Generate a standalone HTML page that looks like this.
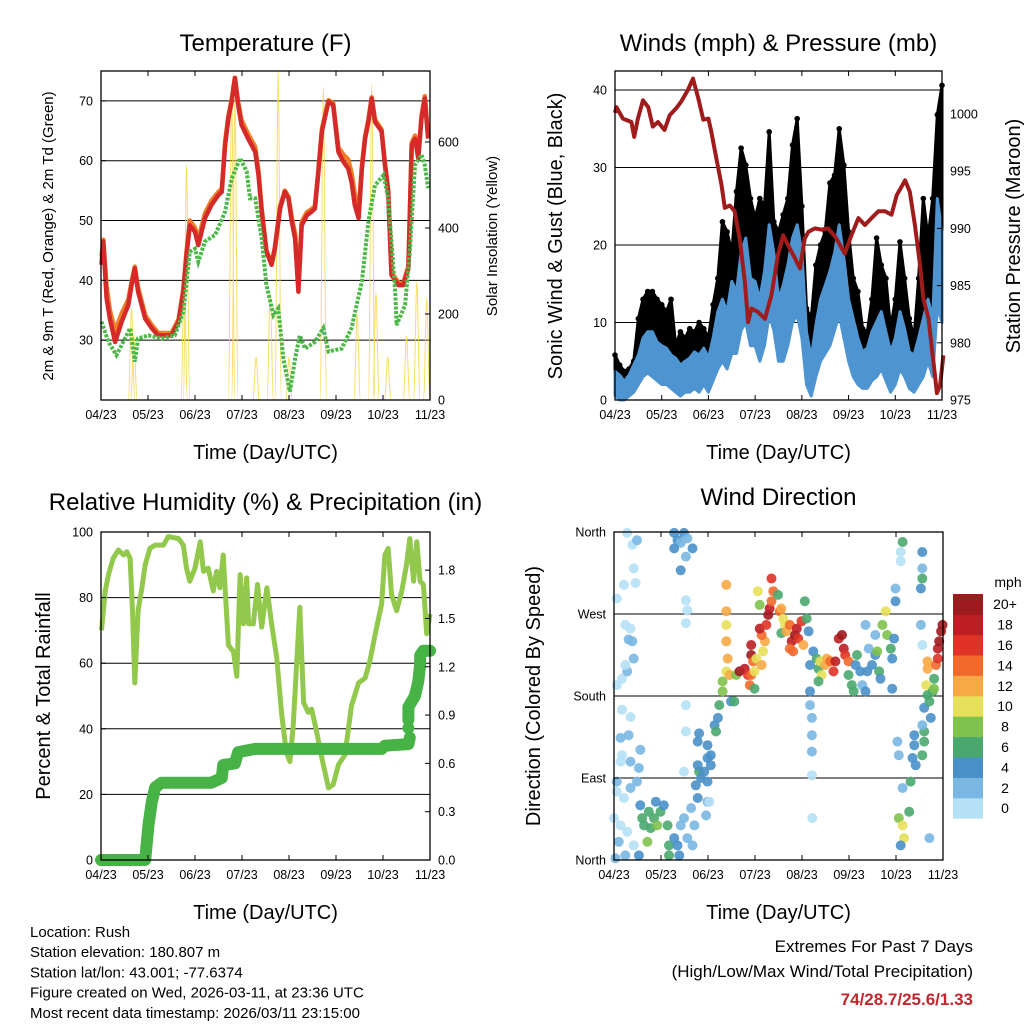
<!DOCTYPE html>
<html><head><meta charset="utf-8"><style>
html,body{margin:0;padding:0;background:#fff;}
svg{display:block;font-family:"Liberation Sans",sans-serif;}
</style></head><body>
<svg id="chart" width="1024" height="1024" viewBox="0 0 1024 1024" xmlns="http://www.w3.org/2000/svg"></svg>
<script>
// ---------- shared ----------
const monthTicks = ['04/23','05/23','06/23','07/23','08/23','09/23','10/23','11/23'];

// ---------- Temperature panel ----------
const tempT = [0.01,0.05,0.12,0.19,0.30,0.44,0.58,0.65,0.72,0.79,0.94,1.08,1.22,1.50,1.65,1.75,1.82,1.89,2.0,2.07,2.21,2.35,2.50,2.57,2.64,2.71,2.78,2.85,2.92,2.99,3.13,3.28,3.35,3.42,3.52,3.63,3.70,3.81,3.91,3.99,4.06,4.13,4.20,4.27,4.38,4.48,4.55,4.62,4.70,4.84,4.94,5.05,5.16,5.26,5.33,5.40,5.48,5.55,5.62,5.69,5.76,5.83,5.97,6.04,6.11,6.18,6.33,6.43,6.54,6.61,6.68,6.75,6.82,6.89,6.96];
const temp2m = [42.6,46.5,37.0,33.6,29.7,33.1,35.9,39.2,42.0,38.1,33.6,32.0,30.8,30.8,33.1,38.1,44.2,49.2,48.1,45.9,50.4,52.6,54.3,54.8,62.6,67.1,69.9,73.8,69.3,66.0,63.7,61.5,57.6,51.5,44.8,42.6,45.3,52.0,54.8,53.7,49.8,47.0,38.1,49.2,50.9,51.5,52.0,57.6,64.9,69.9,69.3,61.5,59.8,58.7,56.5,52.6,50.4,58.7,63.7,66.5,70.4,66.5,64.9,59.3,54.8,40.9,39.2,39.2,42.0,62.6,63.7,60.4,67.1,70.4,63.7];
const temp9m = [44.0,46.8,39.0,35.0,31.5,34.5,36.8,39.8,42.3,38.8,34.2,32.5,31.2,31.2,33.5,38.5,44.8,50.0,48.8,46.8,51.2,53.3,54.8,55.3,63.2,67.5,70.3,73.9,69.8,66.8,64.5,62.3,58.3,52.0,45.0,42.8,45.6,52.4,55.0,54.0,50.5,47.8,40.0,49.8,51.4,51.9,52.4,58.0,65.3,70.1,69.6,62.2,61.0,60.2,58.0,54.5,51.3,59.2,64.1,66.9,70.6,66.9,65.2,59.7,55.2,41.3,39.6,39.5,42.4,63.0,64.2,61.0,67.5,70.8,64.2];
const tdT = [0.01,0.16,0.33,0.51,0.62,0.72,0.79,1.01,1.29,1.57,1.75,1.89,2.0,2.07,2.21,2.43,2.64,2.78,2.96,3.1,3.17,3.28,3.42,3.52,3.67,3.77,3.88,4.02,4.13,4.23,4.34,4.55,4.73,4.84,5.12,5.33,5.55,5.69,5.83,6.01,6.11,6.26,6.29,6.47,6.57,6.68,6.82,6.89,6.96];
const tdVals = [33.1,29.7,27.5,30.3,32.0,26.4,30.3,30.8,30.3,30.8,34.7,44.8,45.3,43.1,46.5,47.6,51.5,57.0,60.4,58.2,53.7,53.7,47.0,39.2,34.2,35.3,26.9,21.4,26.9,30.8,28.6,29.7,32.0,28.1,28.6,32.0,39.8,49.8,55.9,57.6,53.7,38.1,32.5,35.9,44.8,59.3,61.0,59.3,55.4];
const solarT = [0.65,0.70,1.77,1.82,2.78,2.85,3.30,3.60,3.77,4.00,4.73,5.45,5.76,5.85,6.10,6.50,6.72,6.93];
const solarPeak = [213,150,300,546,733,700,100,250,763,100,725,200,733,250,100,150,275,236];

// ---------- Winds panel ----------
const windT = [0,0.1,0.2,0.3,0.4,0.5,0.6,0.7,0.8,0.9,1.0,1.1,1.2,1.3,1.4,1.5,1.6,1.7,1.8,1.9,2.0,2.1,2.2,2.3,2.4,2.5,2.6,2.7,2.8,2.9,3.0,3.1,3.2,3.3,3.4,3.5,3.6,3.7,3.8,3.9,4.0,4.1,4.2,4.3,4.4,4.5,4.6,4.7,4.8,4.9,5.0,5.1,5.2,5.3,5.4,5.5,5.6,5.7,5.8,5.9,6.0,6.1,6.2,6.3,6.4,6.5,6.6,6.7,6.8,6.9,7.0];
const windHi = [3.7,3.2,2.4,3.2,4.5,5.8,8,8.8,8.8,7.5,7,6.7,5.8,5.4,4.5,5,5.4,6.2,5.8,6.7,5.4,8,11.4,13,11.4,15.3,14,19,20.9,15.7,15.3,13,16.6,22.6,19,13,14.8,17.4,20.9,22.6,19,8.8,5.4,9.7,13,14.8,16.6,19,22.6,18.3,13,10.5,8,6.2,6.7,8.8,10.1,11.4,8.8,6.2,8,11.4,9.2,6.2,5.8,8,10.5,13,10.5,26,21.7];
const windLo = [0.6,0,0,0.5,1,2,3,3.5,3,2.5,2,2,1.5,1,0.5,1,1,1.5,1,2,1,2.5,4,5,4,6,6,9,10,7,7,5,7,11,9,5,5,7,10,11,8,2,0.5,3,5,6,7,9,11,8,5,3,2,1.5,1.5,2.5,3,4,2.5,1,2,4,3,1.5,1,2,3,5,3,12,10];
const gustHi = [5.8,4.5,3.7,4,5,10.5,13,14,14,13,12.3,11.4,13,7,8.8,8,9.2,8.8,10,9.2,8,12.3,15.7,23,21.7,19,26.9,32.5,30.3,26,23.4,26,25,34.6,23,21.7,23.9,26,32.9,36.3,25,11.8,10.5,17.4,20,21.7,28,29,35,30.3,21.7,15.7,14,9.2,8.8,13,20.9,17.4,15.7,9.2,13,20.4,15.7,10.5,8,15.7,26,20.9,26,36.8,40.6];
const presT = [0,0.03,0.17,0.35,0.41,0.49,0.6,0.71,0.81,0.92,1.06,1.17,1.31,1.42,1.56,1.67,1.78,1.89,2.0,2.06,2.17,2.28,2.35,2.46,2.56,2.67,2.78,2.85,2.92,3.06,3.21,3.35,3.49,3.6,3.71,3.85,3.96,4.06,4.14,4.28,4.42,4.56,4.71,4.85,4.92,5.06,5.21,5.35,5.49,5.64,5.78,5.92,6.03,6.21,6.31,6.42,6.53,6.6,6.71,6.81,6.89,6.96,7.03];
const presVals = [1000.1,1000.6,999.6,999.3,998.0,999.6,1001.2,1000.6,998.9,999.3,998.6,999.9,1000.5,1001.1,1002.1,1003.1,1001.4,999.5,999.6,998.5,996.1,993.8,991.8,992.0,991.5,989.1,985.3,981.8,983.0,982.7,982.1,984.2,987.7,989.4,988.5,987.4,986.5,989.1,989.7,990.0,989.9,990.0,989.3,988.3,987.8,989.4,990.9,990.3,990.9,991.5,991.5,991.2,992.9,994.2,993.2,990.3,986.8,983.9,982.1,978.6,975.6,976.3,978.9];

// ---------- RH / precip panel ----------
const rhT = [0.01,0.09,0.16,0.26,0.37,0.48,0.55,0.62,0.67,0.72,0.79,0.87,0.94,1.04,1.15,1.33,1.43,1.65,1.75,1.82,1.89,2.0,2.11,2.18,2.28,2.39,2.46,2.53,2.60,2.71,2.82,2.89,2.96,3.03,3.1,3.14,3.24,3.33,3.42,3.53,3.63,3.74,3.84,3.94,4.02,4.09,4.23,4.31,4.41,4.48,4.59,4.70,4.84,4.94,5.05,5.19,5.33,5.48,5.62,5.72,5.83,5.97,6.04,6.11,6.18,6.29,6.40,6.50,6.57,6.65,6.72,6.79,6.86,6.93,7.0];
const rhVals = [70,82,87,92,94.5,93,94,92,76,54,76,83,90,95,96,96,98.6,98,96,89,85,89,97,88,89,82,88,83,93,65.5,63.5,56,87,72,86,72,72,84,71,83,72,61.5,45,33,30,41,77,48,45,46,39,31,22,23,29,32,47,54,55.5,60.5,68.6,78,93,95,81,76,82,90,98,85,97,85,84,69,75];
const rainT = [0,0.94,1.01,1.08,1.15,1.29,2.35,2.57,2.60,2.85,2.92,3.28,5.97,6.04,6.54,6.57];
const rainVals = [0,0,0.22,0.36,0.45,0.48,0.48,0.51,0.59,0.60,0.67,0.69,0.69,0.71,0.72,0.76];
const rainT2 = [6.54,6.54,6.68,6.75,6.79,6.79,6.86,7.0];
const rainVals2 = [0.87,0.95,1.02,1.11,1.21,1.27,1.30,1.30];

// ---------- Wind direction panel ----------
const dirT = [0.06,0.28,0.39,0.49,0.42,0.21,0.46,0.06,0.17,0.24,0.35,0.31,0.39,0.28,0.24,0.42,0.17,0.35,0.14,0.31,0.17,0.14,0.56,0.35,0.53,0.06,0.06,0.21,0.35,0.49,0,0.14,0.28,0.10,0.42,0.24,0.03,0.53,0.56,0.60,0.64,0.74,0.78,0.85,0.92,0.99,0.71,0.89,1.06,1.14,1.17,1.17,1.28,1.35,1.42,1.39,1.49,1.56,1.64,1.71,1.78,1.67,1.74,1.81,1.85,1.92,1.99,1.99,1.96,1.99,2.06,1.78,1.78,1.99,2.06,2.14,2.17,2.21,2.24,2.31,2.31,2.39,2.46,2.42,2.39,2.39,2.39,2.39,2.49,2.56,2.60,2.67,2.78,2.85,2.92,2.89,2.99,2.99,2.92,2.92,2.96,3.03,3.14,3.17,3.21,3.14,3.10,3.24,3.28,3.31,3.35,3.39,3.35,3.10,3.06,3.49,3.53,3.56,3.60,3.64,3.56,3.67,3.74,3.78,3.85,3.89,3.92,3.74,3.81,3.99,4.03,4.06,4.10,4.14,4.17,4.17,4.17,4.21,4.21,4.21,4.21,4.22,4.24,4.31,4.35,4.39,4.42,4.35,4.49,4.53,4.60,4.67,4.71,4.78,4.85,4.89,4.92,4.99,4.99,5.06,5.10,5.14,5.17,5.24,5.28,5.35,5.39,5.42,5.49,5.56,5.60,5.64,5.67,5.56,5.35,5.71,5.78,5.81,5.89,5.92,5.96,5.99,5.99,5.92,6.14,6.10,6.10,6.03,6.06,6.06,6.14,6.17,6.10,6.14,6.28,6.31,6.35,6.39,6.42,6.39,6.56,6.60,6.60,6.56,6.60,6.67,6.71,6.64,6.67,6.67,6.78,6.81,6.81,6.85,6.89,6.92,6.96,6.99,6.89,6.56,6.56,6.56,6.53,6.53,6.56,6.74,6.71,1.28,1.35,1.49,1.42,1.56,1.67,1.53,1.42,1.28,1.53,1.56,1.53,1.53,1.53,1.49,1.81,2.03];
const dirDeg = [287,359,346,351,320,302,304,192,199,258,254,242,240,207,214,221,165,157,134,137,115,108,121,108,101,86,75,68,79,86,46,38,31,20,16,5,2,5,60,46,38,53,35,46,38,53,20,64,60,38,16,5,24,16,38,5,46,24,57,38,68,16,82,97,90,97,86,64,49,112,115,104,130,126,104,148,141,156,170,185,196,207,203,221,240,258,273,302,174,174,203,207,210,203,203,192,188,207,236,225,218,221,214,229,240,247,254,258,269,276,284,295,309,280,295,291,273,276,265,258,249,251,258,240,247,254,243,232,229,262,236,284,265,251,214,185,170,156,137,119,93,46,229,221,210,218,203,196,214,221,218,207,218,243,247,232,225,218,203,192,185,214,225,207,192,185,207,232,214,225,229,207,199,247,258,258,273,247,232,221,243,284,298,188,349,338,328,130,115,46,38,24,16,79,53,86,112,126,104,137,115,130,141,148,167,181,174,192,210,218,185,188,199,214,232,240,251,258,221,338,320,309,298,258,236,156,24,359,351,359,348,353,342,333,318,342,285,274,260,170,141,97,139,64];
const dirSpd = [1,0,0,3,1,0,0,0,1,1,0,2,2,3,1,3,1,0,2,3,1,1,3,3,3,3,1,1,2,3,0,1,0,2,1,2,3,4,4,6,6,7,7,7,8,7,8,5,4,6,6,7,4,4,3,4,2,3,2,3,4,3,4,6,4,4,4,3,2,4,4,4,4,4,4,5,7,4,7,8,9,10,12,12,12,11,12,13,5,6,9,20,18,16,14,14,6,10,18,20,14,10,12,10,13,14,18,16,20,18,14,14,16,8,10,7,14,12,10,10,6,13,15,18,20,18,16,14,14,16,12,6,6,5,4,4,2,2,2,2,1,1,4,6,7,10,10,7,12,12,14,16,19,18,20,18,16,14,6,7,6,5,7,4,3,4,4,3,4,4,8,6,5,3,2,9,11,8,6,5,4,4,2,4,7,1,1,2,2,8,10,10,4,2,6,7,4,4,4,4,7,6,6,3,4,6,7,10,12,12,7,8,7,14,18,20,20,20,16,4,3,7,4,2,1,5,2,4,4,4,3,3,4,3,4,4,1,1,1,1,1,1,4,1];
const speedColors = ['#b6e0f6','#7ab7e3','#4a90c8','#4aa86f','#7fc24d','#e7e05a','#f8a946','#f26a2b','#df3327','#bd1e24','#9b1b1e'];
const speedLabels = ['0','2','4','6','8','10','12','14','16','18','20+'];
const dirLabels = ['North','East','South','West','North'];

// ---------- helpers ----------
const NS = 'http://www.w3.org/2000/svg';
const svg = document.getElementById('chart');
function mk(tag, attrs, parent){
  const e = document.createElementNS(NS, tag);
  for (const k in attrs) e.setAttribute(k, attrs[k]);
  (parent || svg).appendChild(e);
  return e;
}
function txt(s, x, y, size, anchor, parent, extra){
  const a = {x:x, y:y, 'font-size':size, 'text-anchor':anchor || 'middle', fill:'#000'};
  if (extra) for (const k in extra) a[k] = extra[k];
  const e = mk('text', a, parent);
  e.textContent = s;
  return e;
}
function linScale(d0, d1, r0, r1){ return v => r0 + (v - d0) * (r1 - r0) / (d1 - d0); }
function pathFrom(xs, ys, sx, sy){
  let d = '';
  for (let i = 0; i < xs.length; i++) d += (i ? 'L' : 'M') + sx(xs[i]).toFixed(1) + ' ' + sy(ys[i]).toFixed(1);
  return d;
}
function frame(g, L, T, R, B){
  const f = mk('rect', {x:L, y:T, width:R-L, height:B-T, fill:'none', stroke:'#000', 'stroke-width':1.3}, g);
  
  
}
function xAxis(g, sx, T, B){
  for (let i = 0; i < monthTicks.length; i++){
    const x = sx(i);
    const tk = mk('path', {d:'M'+x+' '+B+'V'+(B-5)+'M'+x+' '+T+'V'+(T+5), stroke:'#000', 'stroke-width':1}, g);
    
    
    const lb = txt(monthTicks[i], x, B + 19, 12.5, 'middle', g);
    
    
  }
  const xt = txt('Time (Day/UTC)', (sx(0)+sx(7))/2, B + 59, 20, 'middle', g);
  
  
}
function hGrid(g, vals, sy, L, R){
  for (const v of vals){
    const gl = mk('line', {x1:L, x2:R, y1:sy(v), y2:sy(v), stroke:'#000', 'stroke-width':1}, g);
    
    
  }
}
function yTicks(g, vals, labels, sy, x, side, size){
  for (let i = 0; i < vals.length; i++){
    const y = sy(vals[i]);
    const dx = side === 'left' ? 5 : -5;
    const tk = mk('line', {x1:x, x2:x+dx, y1:y, y2:y, stroke:'#000', 'stroke-width':1}, g);
    
    
    const lb = txt(labels[i], side === 'left' ? x - 8 : x + 8, y + 4.5, size || 12.5, side === 'left' ? 'end' : 'start', g);
    
    
  }
}
function rotLabel(g, s, x, y, size){
  const t = txt(s, x, y, size, 'middle', g, {transform:'rotate(-90 '+x+' '+y+')'});
  return t;
}

// ================= Panel 1: Temperature =================
(function(){
  const L=101, R=430, T=71, B=400;
  const g = mk('g', {});
  
  
  const sx = linScale(0, 7, L, R);
  const sy = linScale(20, 75, B, T);
  const sw = linScale(0, 765, B, T);
  const ttl = txt('Temperature (F)', (L+R)/2, 51, 24, 'middle', g);
  
  
  hGrid(g, [30,40,50,60,70], sy, L, R);
  const sg = mk('g', {fill:'none', stroke:'#f6d94a', 'stroke-width':1, opacity:0.85}, g);
  
  
  for (let i = 0; i < solarT.length; i++){
    const x0 = sx(solarT[i]-0.07), xm = sx(solarT[i]), x1 = sx(solarT[i]+0.07);
    const yp = sw(solarPeak[i]);
    const p = mk('path', {d:'M'+x0+' '+B+'C'+(xm-2)+' '+B+' '+(xm-1)+' '+yp+' '+xm+' '+yp+'C'+(xm+1)+' '+yp+' '+(xm+2)+' '+B+' '+x1+' '+B}, sg);
    
    
  }
  const og = mk('path', {d:pathFrom(tempT, temp9m, sx, sy), fill:'none', stroke:'#f07d27', 'stroke-width':4.5, 'stroke-linejoin':'round'}, g);
  
  
  const rd = mk('path', {d:pathFrom(tempT, temp2m, sx, sy), fill:'none', stroke:'#d42a2a', 'stroke-width':4.5, 'stroke-linejoin':'round'}, g);
  
  
  const gr = mk('path', {d:pathFrom(tdT, tdVals, sx, sy), fill:'none', stroke:'#4cb848', 'stroke-width':4, 'stroke-dasharray':'3 1.5'}, g);
  
  
  frame(g, L, T, R, B);
  xAxis(g, sx, T, B);
  yTicks(g, [30,40,50,60,70], ['30','40','50','60','70'], sy, L, 'left');
  yTicks(g, [0,200,400,600], ['0','200','400','600'], sw, R, 'right');
  const yl = rotLabel(g, '2m & 9m T (Red, Orange) & 2m Td (Green)', 53, 236, 15);
  
  
  const yr = rotLabel(g, 'Solar Insolation (Yellow)', 497, 236, 15);
  
  
})();

// ================= Panel 2: Winds =================
(function(){
  const L=615, R=942, T=71, B=400;
  const g = mk('g', {});
  
  
  const sx = linScale(0, 7, L, R);
  const sy = linScale(0, 42.45, B, T);
  const sp = linScale(975, 1003.76, B, T);
  const ttl = txt('Winds (mph) & Pressure (mb)', (L+R)/2, 51, 24, 'middle', g);
  
  
  hGrid(g, [10,20,30,40], sy, L, R);
  let d = pathFrom(windT, gustHi, sx, sy);
  for (let i = windT.length-1; i >= 0; i--) d += 'L' + sx(windT[i]).toFixed(1) + ' ' + sy(windHi[i]).toFixed(1);
  const gb = mk('path', {d:d+'Z', fill:'#000', stroke:'#000', 'stroke-width':3, 'stroke-linejoin':'round'}, g);
  
  
  for (let i = 0; i < windT.length; i++){
    const c = mk('circle', {cx:sx(windT[i]), cy:sy(gustHi[i]), r:2.8, fill:'#000'}, g);
    
    
  }
  let d2 = pathFrom(windT, windHi, sx, sy);
  for (let i = windT.length-1; i >= 0; i--) d2 += 'L' + sx(windT[i]).toFixed(1) + ' ' + sy(windLo[i]).toFixed(1);
  const wb = mk('path', {d:d2+'Z', fill:'#4d94d0', stroke:'#4d94d0', 'stroke-width':3, 'stroke-linejoin':'round'}, g);
  
  
  const pl = mk('path', {d:pathFrom(presT, presVals, sx, sp), fill:'none', stroke:'#a01c1c', 'stroke-width':4, 'stroke-linejoin':'round'}, g);
  
  
  frame(g, L, T, R, B);
  xAxis(g, sx, T, B);
  yTicks(g, [0,10,20,30,40], ['0','10','20','30','40'], sy, L, 'left');
  yTicks(g, [975,980,985,990,995,1000], ['975','980','985','990','995','1000'], sp, R, 'right');
  const yl = rotLabel(g, 'Sonic Wind & Gust (Blue, Black)', 562, 236, 20);
  
  
  const yr = rotLabel(g, 'Station Pressure (Maroon)', 1020, 236, 20);
  
  
})();

// ================= Panel 3: RH & precip =================
(function(){
  const L=101, R=430, T=532, B=860;
  const g = mk('g', {});
  
  
  const sx = linScale(0, 7, L, R);
  const sy = linScale(0, 100, B, T);
  const sr = linScale(0, 2.037, B, T);
  const ttl = txt('Relative Humidity (%) & Precipitation (in)', (L+R)/2, 510, 24, 'middle', g);
  
  
  hGrid(g, [20,40,60,80], sy, L, R);
  const rh = mk('path', {d:pathFrom(rhT, rhVals, sx, sy), fill:'none', stroke:'#92c94c', 'stroke-width':5, 'stroke-linejoin':'round'}, g);
  
  
  const rn = mk('path', {d:pathFrom(rainT, rainVals, sx, sr), fill:'none', stroke:'#47b347', 'stroke-width':12, 'stroke-linecap':'round', 'stroke-linejoin':'round'}, g);
  
  
  const rn2 = mk('path', {d:pathFrom(rainT2, rainVals2, sx, sr), fill:'none', stroke:'#47b347', 'stroke-width':12, 'stroke-linecap':'round', 'stroke-linejoin':'round'}, g);
  
  
  const c1 = mk('circle', {cx:sx(rainT2[0]), cy:sr(0.82), r:6, fill:'#47b347'}, g);
  
  
  frame(g, L, T, R, B);
  xAxis(g, sx, T, B);
  yTicks(g, [0,20,40,60,80,100], ['0','20','40','60','80','100'], sy, L, 'left');
  yTicks(g, [0,0.3,0.6,0.9,1.2,1.5,1.8], ['0.0','0.3','0.6','0.9','1.2','1.5','1.8'], sr, R, 'right');
  const yl = rotLabel(g, 'Percent & Total Rainfall', 50, 696, 20);
  
  
})();

// ================= Panel 4: Wind direction =================
(function(){
  const L=614, R=943, T=532, B=860;
  const g = mk('g', {});
  
  
  const sx = linScale(0, 7, L, R);
  const sy = linScale(0, 360, B, T);
  const ttl = txt('Wind Direction', (L+R)/2, 505, 24, 'middle', g);
  
  
  hGrid(g, [90,180,270], sy, L, R);
  for (let i = 0; i < dirT.length; i++){
    const bin = Math.min(10, Math.floor(dirSpd[i] / 2));
    const c = mk('circle', {cx:sx(dirT[i]).toFixed(1), cy:sy(dirDeg[i]).toFixed(1), r:5, fill:speedColors[bin], 'fill-opacity':0.9}, g);
    
    
  }
  frame(g, L, T, R, B);
  xAxis(g, sx, T, B);
  yTicks(g, [0,90,180,270,360], dirLabels, sy, L, 'left', 12.5);
  const yl = rotLabel(g, 'Direction (Colored By Speed)', 540, 696, 20);
  
  
  const cb = mk('g', {}, g);
  
  
  const top = 594, h = 20.4;
  for (let i = 0; i < speedColors.length; i++){
    const y = top + (speedColors.length - 1 - i) * h;
    const r = mk('rect', {x:953, y:y, width:30, height:h+0.3, fill:speedColors[i]}, cb);
    
    
    const t = txt(speedLabels[i], 1005, y + h/2 + 5, 14, 'middle', cb);
    
    
  }
  const u = txt('mph', 1008, 587, 14, 'middle', cb);
  
  
})();

// ================= Footer =================
(function(){
  const g = mk('g', {});
  
  
  const lines = ['Location: Rush','Station elevation: 180.807 m','Station lat/lon: 43.001; -77.6374','Figure created on Wed, 2026-03-11, at 23:36 UTC','Most recent data timestamp: 2026/03/11 23:15:00'];
  for (let i = 0; i < lines.length; i++){
    const t = txt(lines[i], 30, 937 + i*20.2, 15, 'start', g);
    
    
  }
  const e1 = txt('Extremes For Past 7 Days', 973, 952, 17, 'end', g);
  
  
  const e2 = txt('(High/Low/Max Wind/Total Precipitation)', 973, 977, 17, 'end', g);
  
  
  const e3 = txt('74/28.7/25.6/1.33', 973, 1005, 17, 'end', g, {fill:'#c0272d', 'font-weight':'bold'});
  
  
})();
</script>
</body></html>
